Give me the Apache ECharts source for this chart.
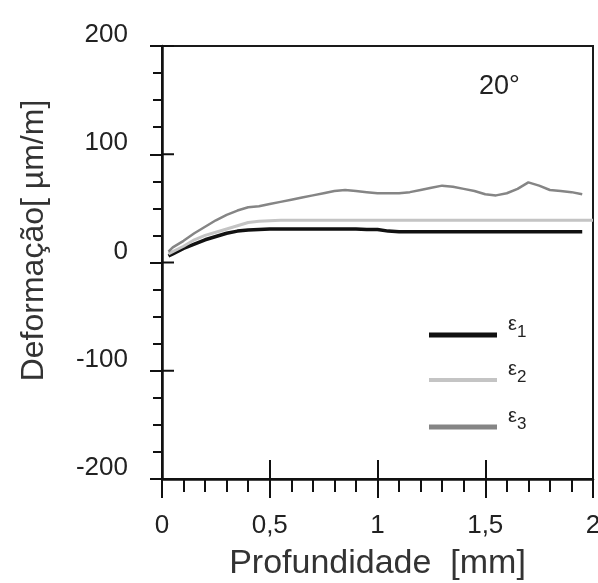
<!DOCTYPE html>
<html>
<head>
<meta charset="utf-8">
<script src="https://cdn.jsdelivr.net/npm/echarts@6/dist/echarts.min.js"></script>
<style>
  html, body { margin: 0; padding: 0; background: #fff; }
  #main { width: 598px; height: 583px; }
</style>
</head>
<body>
<div id="main"></div>
<script>
// profundidade [mm]
var depth = [0.03, 0.05, 0.1, 0.15, 0.2, 0.25, 0.3, 0.35, 0.4, 0.45,
  0.5, 0.55, 0.6, 0.65, 0.7, 0.75, 0.8, 0.85, 0.9, 0.95,
  1.0, 1.05, 1.1, 1.15, 1.2, 1.25, 1.3, 1.35, 1.4, 1.45,
  1.5, 1.55, 1.6, 1.65, 1.7, 1.75, 1.8, 1.85, 1.9, 1.95, 2.0]

// deformação [µm/m]
var eps1 = [6, 8, 13, 17, 21, 24, 27, 29, 30, 30.5,
  31, 31, 31, 31, 31, 31, 31, 31, 31, 30.5,
  30.5, 29, 28.5, 28.5, 28.5, 28.5, 28.5, 28.5, 28.5, 28.5,
  28.5, 28.5, 28.5, 28.5, 28.5, 28.5, 28.5, 28.5, 28.5, 28.5, null]
var eps2 = [8, 10, 15, 21, 25, 28, 31, 34, 37, 38,
  38.5, 39, 39, 39, 39, 39, 39, 39, 39, 39,
  39, 39, 39, 39, 39, 39, 39, 39, 39, 39,
  39, 39, 39, 39, 39, 39, 39, 39, 39, 39, 39]
var eps3 = [10, 14, 20, 27, 33, 39, 44, 48, 51, 52,
  54, 56, 58, 60, 62, 64, 66, 67, 66, 65,
  64, 64, 64, 65, 67, 69, 71, 70, 68, 66,
  63, 62, 64, 68, 74, 71, 67, 66, 65, 63, null]

// major y ticks (the inner half is drawn by a custom series)
var yTickValues = [-200, -100, 0, 100, 200]
var xTicks = { 0: '0', 0.5: '0,5', 1: '1', 1.5: '1,5', 2: '2' }

function pairs (ys) {
  var out = []
  for (var i = 0; i < depth.length; i++) {
    out.push([depth[i], ys[i]])
  }
  return out
}

var names = ['ε1', 'ε2', 'ε3']
var colors = ['#111111', '#c4c4c4', '#858585']
var widths = [3.5, 3, 2.5]
var legendTops = [309, 354, 401]
var legendHeights = [5, 4, 5]
var allData = [eps1, eps2, eps3]

var FONT = '"Liberation Sans", Arial, sans-serif'

var series = []
var legends = []
for (var k = 0; k < 3; k++) {
  series.push({
    name: names[k],
    type: 'line',
    xAxisIndex: 0,
    yAxisIndex: 0,
    showSymbol: false,
    symbol: 'none',
    connectNulls: false,
    lineStyle: { color: colors[k], width: widths[k] },
    itemStyle: { color: colors[k] },
    data: pairs(allData[k])
  })
  legends.push({
    data: [names[k]],
    left: 424,
    top: legendTops[k],
    icon: 'rect',
    itemWidth: 68,
    itemHeight: legendHeights[k],
    selectedMode: false,
    formatter: function (n) {
      return '{e|ε}{s|' + n.slice(1) + '}'
    },
    textStyle: {
      rich: {
        e: { fontFamily: FONT, fontSize: 20, color: '#222', padding: [0, 0, 22, 6] },
        s: { fontFamily: FONT, fontSize: 17, color: '#222', padding: [0, 0, 6, 0] }
      }
    }
  })
}

// inner half of the major y ticks, placed through the y scale
series.push({
  type: 'custom',
  name: 'yticks',
  xAxisIndex: 0,
  yAxisIndex: 0,
  silent: true,
  clip: false,
  z: 5,
  data: yTickValues.map(function (v) { return [0, v] }),
  renderItem: function (params, api) {
    var p = api.coord([api.value(0), api.value(1)])
    return {
      type: 'line',
      shape: { x1: p[0], y1: p[1], x2: p[0] + 12, y2: p[1] },
      style: { stroke: '#111', lineWidth: 2 }
    }
  }
})

var myChart = echarts.init(document.getElementById('main'))
var option = {
  backgroundColor: '#fff',
  animation: false,
  grid: {
    left: 162,
    right: 5,
    top: 46,
    bottom: 104,
    outerBoundsMode: 'none',
    containLabel: false,
    show: true,
    borderColor: '#1a1a1a',
    borderWidth: 2
  },
  legend: legends,
  graphic: [{
    type: 'text',
    left: 479,
    top: 73,
    style: { text: '20°', font: '27px ' + FONT, fill: '#222' }
  }],
  xAxis: [{
    type: 'value',
    min: 0,
    max: 2,
    interval: 0.5,
    name: 'Profundidade  [mm]',
    nameLocation: 'middle',
    nameGap: 68,
    nameTextStyle: { fontFamily: FONT, fontSize: 34, color: '#333' },
    axisLine: { onZero: false, lineStyle: { color: '#111', width: 2.5 } },
    axisTick: { length: 19, lineStyle: { color: '#111', width: 2 } },
    minorTick: { show: true, splitNumber: 5, length: 13, lineStyle: { color: '#111', width: 2 } },
    splitLine: { show: false },
    axisLabel: {
      margin: 34,
      fontFamily: FONT,
      fontSize: 26,
      color: '#222',
      formatter: function (v) { return xTicks[v] }
    }
  }, {
    // inner half of the major x ticks
    type: 'value',
    min: 0,
    max: 2,
    interval: 0.5,
    position: 'bottom',
    offset: 0,
    axisLine: { show: false, onZero: false },
    axisTick: { show: true, inside: true, length: 19, lineStyle: { color: '#111', width: 2 } },
    axisLabel: { show: false },
    splitLine: { show: false }
  }],
  yAxis: {
    type: 'value',
    min: -200,
    max: 200,
    interval: 100,
    name: 'Deformação[ µm/m]',
    nameLocation: 'middle',
    nameGap: 112,
    nameTextStyle: { fontFamily: FONT, fontSize: 32, color: '#333', padding: [0, 0, 0, 44] },
    axisLine: { onZero: false, lineStyle: { color: '#111', width: 2.5 } },
    axisTick: { length: 12, lineStyle: { color: '#111', width: 2 } },
    minorTick: { show: true, splitNumber: 4, length: 9, lineStyle: { color: '#111', width: 2 } },
    splitLine: { show: false },
    axisLabel: {
      margin: 34,
      fontFamily: FONT,
      fontSize: 26,
      color: '#222',
      verticalAlign: 'bottom',
      padding: [0, 0, -2, 0]
    }
  },
  series: series
}
myChart.setOption(option)
</script>
</body>
</html>
